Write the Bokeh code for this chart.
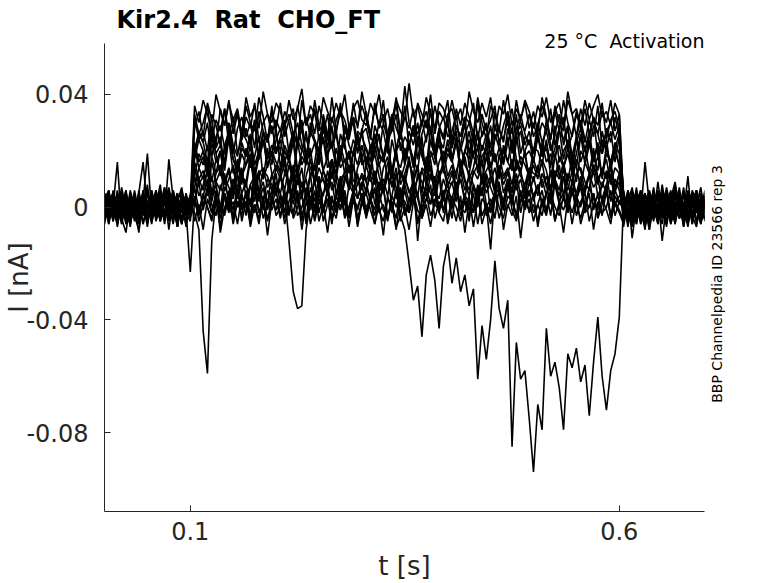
import numpy as np
from bokeh.plotting import figure
from bokeh.models import FixedTicker, Range1d, Title, LinearAxis
from bokeh.embed import file_html
from bokeh.resources import INLINE

# ---------------- data (current in pA, sampled every 5 ms) ----------------
sample_interval_s = 0.005
x_limits = [0.0, 0.6993]
y_limits = [-0.108, 0.0581]
x_ticks = [0.1, 0.6]
x_tick_labels = ["0.1", "0.6"]
y_ticks = [0.04, 0, -0.04, -0.08]
y_tick_labels = ["0.04", "0", "-0.04", "-0.08"]

title_text = "Kir2.4 \u00a0Rat \u00a0CHO_FT"
condition_text = "25 °C \u00a0Activation"
id_text = "BBP Channelpedia ID 23566 rep 3"
x_label = "t [s]"
y_label = "I [nA]"

# each sweep: before step (0-0.1 s), during step (0.105-0.6 s), after step (0.605-0.7 s)
sweep01_pre = [2,-3,5,-1,4,-6,1,3,-2,6,-4,0,3,-5,2,7,-1,-3,4,-2,1]
sweep01_step = [28,34,25,37,31,22,35,29,38,26,33,24,36,30,27,39,32,23,34,28,
                37,25,31,35,22,38,29,33,26,36,30,24,39,27,34,31,25,37,28,41,
                33,26,35,29,38,24,32,36,27,43,30,25,37,33,28,40,26,34,31,38,
                23,35,29,37,32,26,39,30,24,36,33,27,38,29,35,25,31,37,28,34,
                26,39,32,24,36,30,27,38,33,25,35,29,37,31,26,34,30,38,27,33]
sweep01_post = [3,-5,1,6,-2,-7,4,0,-3,8,-1,2,-6,5,-2,3,-4,1,7,-3]

sweep02_pre = [-4,1,-2,6,-3,2,-7,4,0,-2,5,-3,1,8,-4,2,-1,5,-6,3,0]
sweep02_step = [31,24,27,20,33,29,22,35,26,19,28,32,25,30,21,34,27,23,36,25,
                20,29,33,26,22,31,18,27,35,24,29,21,32,26,37,23,28,30,19,27,
                34,25,22,30,27,19,33,28,24,36,21,29,26,31,23,35,20,28,32,25,
                27,33,20,26,30,23,37,25,29,21,34,27,24,31,19,28,33,26,22,30,
                24,30,27,35,22,28,32,20,26,34,29,23,31,25,36,21,27,30,24,29]
sweep02_post = [-4,2,7,-3,0,-8,5,1,-2,4,-6,3,9,-1,-5,2,0,6,-3,1]

sweep03_pre = [3,6,-2,1,-5,3,0,-4,5,16,-1,2,-3,4,-2,1,-6,3,5,-2,2]
sweep03_step = [19,26,23,16,28,21,25,14,30,22,18,27,24,20,31,17,23,26,15,24,
                28,20,17,25,30,22,15,27,23,19,32,24,21,26,16,29,22,18,27,25,
                21,16,29,24,18,26,33,20,23,15,27,22,30,19,25,28,17,24,21,31,
                17,25,22,30,14,23,27,20,26,18,29,24,16,28,21,33,19,25,23,20,
                26,19,31,22,17,27,24,29,15,23,28,20,25,32,18,24,21,27,16,25]
sweep03_post = [5,-1,-6,3,-2,16,1,-5,4,-3,7,0,-4,2,-7,5,1,-2,4,-5]

sweep04_pre = [-1,-5,3,-2,7,-1,4,-3,-8,2,19,-2,5,3,-4,6,-1,-5,2,4,-3]
sweep04_step = [23,16,20,13,25,19,11,22,27,17,14,21,18,26,12,20,24,15,19,28,
                14,22,18,11,24,20,27,16,13,21,25,17,29,15,19,23,12,20,26,18,
                21,13,26,19,16,23,10,20,28,17,22,14,25,19,12,24,18,27,15,21,
                16,24,12,20,27,18,14,22,19,11,26,21,15,23,28,17,13,20,24,16,
                25,18,21,14,29,16,20,23,12,19,26,15,22,18,13,27,20,16,23,19]
sweep04_post = [-2,6,0,-4,3,-7,2,5,-1,-3,6,-5,1,4,-2,11,-6,3,0,-4]

sweep05_pre = [5,-2,0,16,-6,2,-3,4,-1,3,-5,1,6,-2,-4,17,3,-2,1,-6,4]
sweep05_step = [11,19,15,22,9,17,13,20,24,12,16,8,21,14,18,25,10,15,19,13,
                20,12,17,9,23,15,19,11,16,26,13,18,10,21,14,17,7,20,15,22,
                14,21,8,18,16,24,12,19,10,15,22,17,13,25,9,18,20,11,16,23,
                17,10,22,15,12,20,18,8,24,14,19,11,21,16,13,26,15,19,9,17,
                12,23,16,19,10,18,14,21,15,9,20,17,24,13,18,11,22,14,20,15]
sweep05_post = [1,-6,4,-2,5,0,-8,3,-3,6,1,-4,2,-1,7,-5,3,0,-2,5]

sweep06_pre = [-6,3,-1,-4,2,5,-3,1,-9,4,0,-2,3,-5,6,-1,2,-4,3,-7,2]
sweep06_step = [16,10,13,7,18,12,20,9,14,5,17,11,15,19,8,13,10,21,12,6,
                12,18,8,15,11,4,17,14,9,19,13,7,16,10,20,12,15,6,14,18,
                9,14,19,11,6,16,13,21,8,12,17,10,15,5,18,13,9,16,20,11,
                15,7,12,18,10,14,22,9,13,16,6,19,11,14,8,17,12,20,10,15,
                10,17,13,6,19,11,15,9,18,14,7,16,12,21,10,13,17,8,14,12]
sweep06_post = [-7,3,-1,5,-4,2,6,-2,0,-6,4,1,-3,5,-1,-4,2,6,-5,1]

sweep07_pre = [0,4,-5,2,-2,6,-4,3,1,-6,2,4,-3,0,5,-8,3,-1,4,-2,-5]
sweep07_step = [14,8,11,4,16,9,13,6,10,15,3,12,7,17,9,5,13,11,6,14,
                10,16,5,12,8,14,2,11,15,7,13,9,17,4,10,12,6,15,8,11,
                5,13,10,16,7,11,14,3,12,9,18,6,10,13,8,15,4,11,14,7,
                12,6,15,9,4,13,10,16,7,11,5,14,8,12,17,6,10,3,13,9,
                15,7,11,5,13,10,16,8,4,12,14,9,6,15,11,7,13,10,5,12]
sweep07_post = [4,0,-3,7,-5,1,3,-4,6,-1,-2,5,-6,2,0,4,-3,-7,3,2]

sweep08_pre = [4,-1,2,-7,3,1,-4,6,-2,0,-5,3,2,-3,7,-4,1,5,-6,2,1]
sweep08_step = [2,10,6,13,4,8,-1,11,7,3,12,5,9,0,14,6,2,10,8,4,
                11,3,7,14,1,9,5,12,-2,8,10,4,13,6,2,11,7,15,3,9,
                6,12,1,8,10,4,13,7,0,11,5,9,14,2,8,12,6,3,10,5,
                9,2,13,6,11,-1,8,4,12,7,3,15,5,10,1,9,13,6,4,11,
                4,12,8,1,10,6,14,3,9,5,11,0,7,13,4,8,12,2,10,6]
sweep08_post = [-3,5,-11,1,4,-2,0,6,-4,3,-1,-5,8,0,-3,2,5,-6,1,-2]

sweep09_pre = [-3,5,-4,1,6,-2,3,-5,2,-1,8,-3,0,4,-6,3,-2,1,-4,5,-1]
sweep09_step = [7,-1,4,10,1,-3,8,3,-2,6,11,0,5,-4,9,2,7,-1,4,12,
                0,6,-3,9,3,-5,7,1,10,-2,5,8,-1,4,11,2,-4,6,3,9,
                -2,5,10,1,7,-4,4,12,0,6,-1,8,3,-3,9,5,1,11,-2,6,
                3,9,-1,5,-5,8,2,6,11,-2,4,7,0,10,3,-3,6,1,9,4,
                8,1,-3,6,10,2,5,-2,9,4,0,7,12,-1,5,3,8,-4,6,2]
sweep09_post = [2,-4,6,-1,-5,4,1,-3,9,-2,3,-6,0,5,-1,-4,6,2,-3,4]

sweep10_pre = [1,-6,4,-3,0,3,-1,5,-4,2,-7,4,1,-2,3,-5,6,-3,0,2,-4]
sweep10_step = [4,-5,1,7,-2,3,-7,5,0,-3,6,-1,2,-6,8,-2,3,-4,1,6,
                -3,2,8,-4,0,5,-6,3,-1,7,-5,1,4,-2,9,-3,0,6,-4,2,
                5,-1,-6,3,7,-3,1,-8,4,2,-2,6,-5,0,3,8,-4,2,-1,5,
                -4,6,0,-2,4,-7,3,7,-3,1,5,-4,2,9,-1,-5,3,0,6,-2,
                1,-3,5,8,-5,2,-1,4,-6,3,7,-2,0,5,-4,1,6,-3,2,-1]
sweep10_post = [-5,1,3,-6,2,5,-3,0,4,-12,1,6,-2,3,-5,0,4,-1,-6,3]

sweep11_pre = [-2,3,-1,5,-4,-9,2,0,4,-3,1,-5,6,-2,3,-1,-4,2,7,-3,1]
sweep11_step = [-2,-8,-44,-59,-12,3,-4,5,-1,2,-6,4,0,-3,6,-2,1,-5,3,-1,
                4,-4,2,7,-3,0,5,-6,1,3,-2,6,-4,2,-1,4,-7,3,0,5,
                -3,2,6,-1,-5,3,1,-4,7,0,-2,4,-6,2,5,-3,1,-1,6,-4,
                3,0,-5,4,2,-2,7,-3,1,-6,3,5,-1,0,4,-4,2,6,-2,1,
                -5,3,-1,5,0,-3,4,-2,6,1,-4,2,0,5,-3,3,-1,-6,4,1]
sweep11_post = [6,-2,-5,2,0,4,-6,3,-1,5,-3,2,7,-4,1,-2,3,-5,0,6]

sweep12_pre = [3,-4,6,-2,1,-5,3,2,-6,4,-1,3,-3,5,-2,0,4,-7,2,-1,-23]
sweep12_step = [3,-2,5,0,-4,6,1,-3,4,-1,7,-5,2,3,-2,5,-4,1,6,-3,
                0,4,-12,-30,-36,-35,-8,2,-4,5,-1,3,-6,4,0,6,-3,2,-1,5,
                -4,3,7,-2,1,-5,4,0,6,-3,2,5,-1,-4,3,1,6,-2,-5,4,
                0,7,-3,2,-1,5,-6,3,1,-2,6,0,-4,4,2,-3,5,-1,3,-5,
                1,6,-2,4,-4,0,3,-1,7,-3,2,5,-5,1,4,-2,0,6,-3,2]
sweep12_post = [-1,4,-3,0,6,-5,2,-2,5,1,-7,3,0,-4,4,2,-3,5,-6,1]

sweep13_pre = [-5,2,1,-3,4,-2,-6,3,0,5,-4,2,-1,6,-3,1,-5,3,-2,4,-1]
sweep13_step = [2,-3,4,0,-5,3,1,-2,6,-4,2,0,5,-3,1,-6,4,2,-1,3,
                -4,5,0,-2,6,-3,1,4,-5,2,-1,3,0,-4,5,1,-2,4,-6,2,
                0,3,-3,5,-1,-4,2,-7,-3,
                -8,-20,-33,-28,-46,-24,-17,-26,-43,-21,-13,-27,-18,-30,-24,-35,-29,
                -61,-42,-54,-40,-19,-36,-43,-33,-85,-48,-61,-58,-75,-94,-70,-79,
                -43,-60,-55,-64,-79,-52,-57,-50,-62,-56,-74,-55,-39,-60,-72,-58,-52,-39]
sweep13_post = [3,-7,2,4,-3,1,-5,6,0,-2,3,-4,5,-1,2,-6,1,4,-2,-4]

sweep14_pre = [-3,4,0,-6,2,5,-2,-4,3,1,-5,6,-1,2,-3,4,0,-7,3,-2,2]
sweep14_step = [36,30,38,33,27,40,34,29,37,31,35,26,39,32,36,28,41,33,30,37,
                34,28,38,31,35,42,29,36,33,27,39,34,30,37,32,40,28,35,38,31,
                29,37,33,40,30,35,27,38,34,31,44,32,36,29,39,33,28,37,35,30,
                38,31,35,28,41,34,30,37,32,39,27,36,33,40,29,35,31,38,34,28,
                36,32,39,30,34,37,28,41,33,35,29,38,31,36,40,32,34,29,37,33]
sweep14_post = [2,-5,6,-3,1,4,-6,0,3,-2,5,-4,-1,7,-3,2,-5,4,0,-2]

sweep15_pre = [5,-1,-4,3,0,6,-5,2,-2,4,1,-6,3,-3,5,-1,2,-5,6,0,-2]
sweep15_step = [20,27,23,30,18,25,29,21,26,32,19,24,28,22,31,17,26,23,29,20,
                25,31,19,27,22,28,16,30,24,20,33,26,21,27,18,29,25,32,22,26,
                28,21,26,18,30,24,27,33,20,25,22,29,17,26,31,23,19,28,24,30,
                22,29,25,32,19,27,21,26,30,18,24,28,23,34,20,26,29,22,27,19,
                30,23,27,20,26,33,22,28,18,25,31,24,21,29,26,19,28,23,32,25]
sweep15_post = [-4,3,1,-6,5,-2,0,4,-5,2,6,-3,-1,3,-7,1,5,-2,2,-4]

sweep16_pre = [-2,6,-4,1,3,-5,0,4,-3,2,-6,5,-1,3,-4,0,6,-2,1,-5,3]
sweep16_step = [21,14,18,11,23,16,20,13,25,17,12,19,15,22,10,18,24,14,20,16,
                13,20,16,23,11,18,15,21,9,19,24,14,17,12,22,16,20,13,26,15,
                18,12,22,15,19,10,24,17,14,21,16,11,23,18,13,20,15,25,12,19,
                16,23,13,20,17,26,12,18,21,14,19,10,22,16,24,13,18,15,11,21,
                20,15,24,11,18,22,14,19,12,25,16,21,13,17,23,10,19,16,22,14]
sweep16_post = [3,-4,-1,5,-6,2,4,-3,0,6,-5,1,-2,4,-4,3,-6,2,5,-1]

sweep17_pre = [4,-3,1,-6,5,0,-2,3,-5,6,-1,2,-4,1,7,-3,0,4,-6,2,-1]
sweep17_step = [7,14,10,17,5,12,15,8,13,4,16,11,9,18,6,12,14,7,11,15,
                12,6,15,9,13,3,11,17,8,14,10,5,16,12,7,13,19,9,11,6,
                15,9,12,5,14,18,7,11,13,8,16,10,4,14,12,17,6,10,15,9,
                8,13,17,10,6,12,15,9,18,11,7,14,10,13,5,16,11,8,14,12,
                11,16,7,13,10,15,4,12,9,17,13,6,11,15,8,14,10,16,7,12]
sweep17_post = [-2,5,-6,1,3,-4,6,-1,-5,2,4,-3,0,5,-2,-6,3,1,-4,4]

sweep18_pre = [-1,3,-5,2,0,-3,5,-2,4,-6,1,3,-1,-4,2,5,-3,0,-2,4,1]
sweep18_step = [2,9,-1,6,11,3,-2,7,4,10,0,5,-3,8,2,12,-1,6,3,9,
                5,-2,8,1,10,4,-4,7,2,11,-1,6,9,0,4,-3,8,5,12,1,
                7,3,-1,9,5,12,0,6,-3,8,2,10,-12,4,7,1,11,-2,5,8,
                0,6,10,2,-4,8,4,11,1,-15,5,9,-1,7,3,10,-2,6,12,2,
                8,1,5,-3,9,4,11,0,6,2,10,-2,7,3,-1,9,5,12,1,4]
sweep18_post = [5,-2,-7,3,1,-4,4,0,-6,3,2,-5,6,-1,-3,4,-2,1,-5,3]

sweep19_pre = [3,-6,2,4,-1,-4,6,0,-3,5,-2,1,4,-5,2,-1,6,-4,0,3,-3]
sweep19_step = [33,26,30,36,24,31,27,35,22,29,34,25,32,28,37,23,30,33,26,31,
                27,34,30,23,36,28,32,25,38,29,26,33,21,31,35,27,24,32,29,36,
                31,24,37,28,33,26,30,39,25,32,28,35,23,30,34,27,36,29,25,33,
                35,28,25,32,30,37,24,33,27,31,36,22,29,34,26,38,30,27,33,25,
                29,36,31,24,34,27,38,30,25,33,28,35,26,32,29,37,24,31,34,28]
sweep19_post = [-3,6,-1,-5,2,4,-2,7,-4,0,3,-6,1,5,-3,2,-1,-5,4,0]

sweep20_pre = [-4,2,5,-3,0,4,-6,1,3,-2,6,-5,0,2,-4,5,-1,3,-6,1,4]
sweep20_step = [17,24,20,14,26,19,22,16,28,21,13,23,18,25,15,20,27,17,22,19,
                24,16,21,27,13,20,25,18,23,15,29,19,22,14,26,21,17,24,20,28,
                15,22,19,26,17,24,12,21,27,18,23,16,25,20,14,28,19,22,17,24,
                21,27,14,20,24,18,26,15,22,29,16,21,19,25,13,23,27,18,20,16,
                26,18,23,15,21,28,17,24,19,14,25,20,27,16,22,19,24,13,21,26]
sweep20_post = [4,-3,0,5,-6,2,-1,6,-4,1,3,-5,2,-2,5,-3,0,6,-4,2]

sweep21_pre = [2,5,-3,0,-6,3,1,-4,6,-2,-5,4,0,-3,2,6,-1,-5,3,0,-2]
sweep21_step = [11,4,8,13,2,9,6,12,0,10,7,14,3,8,11,5,9,1,12,6,
                5,12,9,3,14,7,10,1,11,8,4,13,6,10,2,9,15,5,8,12,
                9,2,13,7,5,11,8,14,3,10,6,1,12,9,4,11,7,13,2,10,
                13,6,10,3,12,8,0,11,5,9,14,7,2,10,6,12,4,8,11,3,
                7,10,4,12,8,1,11,6,13,3,9,5,12,7,10,2,8,14,6,9]
sweep21_post = [-1,4,-5,2,6,-3,0,3,-6,5,1,-2,4,-4,-1,6,-3,2,0,-5]

sweep22_pre = [0,-4,3,-1,5,-6,2,4,-3,1,-2,6,-5,0,3,-4,2,-7,4,-1,3]
sweep22_step = [-5,1,-8,3,-2,5,-9,0,4,-6,2,-3,6,-7,1,-4,3,-10,2,-1,
                4,-6,0,-3,5,-8,2,-1,6,-5,1,-9,3,-2,7,-4,0,5,-7,2,
                -3,3,-6,1,-10,4,-2,6,-5,0,-8,2,5,-4,1,-7,3,-1,6,-6,
                1,-5,4,-9,2,-2,5,-6,0,3,-4,7,-8,1,-3,4,-11,2,-1,5,
                -7,2,-1,6,-5,1,-9,3,-2,4,-6,0,5,-8,2,-3,6,-4,1,-2]
sweep22_post = [-6,2,4,-3,0,5,-8,1,3,-4,6,-2,-5,3,0,-7,4,1,-3,2]

sweeps = [
    (sweep01_pre, sweep01_step, sweep01_post),
    (sweep02_pre, sweep02_step, sweep02_post),
    (sweep03_pre, sweep03_step, sweep03_post),
    (sweep04_pre, sweep04_step, sweep04_post),
    (sweep05_pre, sweep05_step, sweep05_post),
    (sweep06_pre, sweep06_step, sweep06_post),
    (sweep07_pre, sweep07_step, sweep07_post),
    (sweep08_pre, sweep08_step, sweep08_post),
    (sweep09_pre, sweep09_step, sweep09_post),
    (sweep10_pre, sweep10_step, sweep10_post),
    (sweep11_pre, sweep11_step, sweep11_post),
    (sweep12_pre, sweep12_step, sweep12_post),
    (sweep13_pre, sweep13_step, sweep13_post),
    (sweep14_pre, sweep14_step, sweep14_post),
    (sweep15_pre, sweep15_step, sweep15_post),
    (sweep16_pre, sweep16_step, sweep16_post),
    (sweep17_pre, sweep17_step, sweep17_post),
    (sweep18_pre, sweep18_step, sweep18_post),
    (sweep19_pre, sweep19_step, sweep19_post),
    (sweep20_pre, sweep20_step, sweep20_post),
    (sweep21_pre, sweep21_step, sweep21_post),
    (sweep22_pre, sweep22_step, sweep22_post),
]

# ---------------- figure ----------------
FONT = "DejaVu Sans"
AX = "#262626"
id_tick = -0.0694   # lower end of the upward-written recording id

p = figure(width=778, height=583,
           x_range=Range1d(*x_limits), y_range=Range1d(*y_limits),
           output_backend="svg", toolbar_location=None,
           min_border_left=104, min_border_right=74,
           min_border_top=43, min_border_bottom=71)
p.outline_line_color = None
p.xgrid.visible = False
p.ygrid.visible = False
p.background_fill_color = "white"
p.border_fill_color = "white"

for pre, step, post in sweeps:
    current_pA = np.array(pre + step + post, dtype=float)
    t = np.arange(len(current_pA)) * sample_interval_s
    p.line(t, current_pA / 1000.0, line_color="black", line_width=1.6)

for ax, ticks, labels in ((p.xaxis, x_ticks, x_tick_labels), (p.yaxis, y_ticks, y_tick_labels)):
    ax.ticker = FixedTicker(ticks=ticks)
    ax.major_label_overrides = {tk: lb for tk, lb in zip(ticks, labels)}
    ax.axis_line_color = AX
    ax.major_tick_line_color = AX
    ax.major_tick_in = 6
    ax.major_tick_out = 0
    ax.minor_tick_line_color = None
    ax.major_label_text_font = FONT
    ax.major_label_text_font_size = "24px"
    ax.major_label_text_color = AX
    ax.axis_label_text_font = FONT
    ax.axis_label_text_font_size = "26px"
    ax.axis_label_text_font_style = "normal"
    ax.axis_label_text_color = AX
p.xaxis.major_label_standoff = 10
p.yaxis.major_label_standoff = 16
p.xaxis.axis_label = x_label
p.yaxis.axis_label = y_label
p.xaxis.axis_label_standoff = 8
p.yaxis.axis_label_standoff = -11

# main title (outer) and condition text (inner, next to the frame)
p.title.text = title_text
p.title.align = "left"
p.title.offset = 12
p.title.standoff = 6
p.title.text_font = FONT
p.title.text_font_size = "24px"
p.title.text_font_style = "bold"
p.title.text_color = "black"
p.add_layout(Title(text=condition_text, align="right", offset=0, standoff=-17,
                   text_font=FONT, text_font_size="19px", text_font_style="normal",
                   text_color="black"), "above")

# recording id, written upward at the right edge
id_axis = LinearAxis(ticker=FixedTicker(ticks=[id_tick]),
                     major_label_overrides={id_tick: id_text},
                     major_label_orientation=np.pi / 2,
                     major_label_standoff=7,
                     major_label_text_font=FONT,
                     major_label_text_font_size="14px",
                     major_label_text_color="black",
                     axis_line_color=None, major_tick_line_color=None,
                     minor_tick_line_color=None)
p.add_layout(id_axis, "right")

open("out.html", "w").write(file_html(p, INLINE))
